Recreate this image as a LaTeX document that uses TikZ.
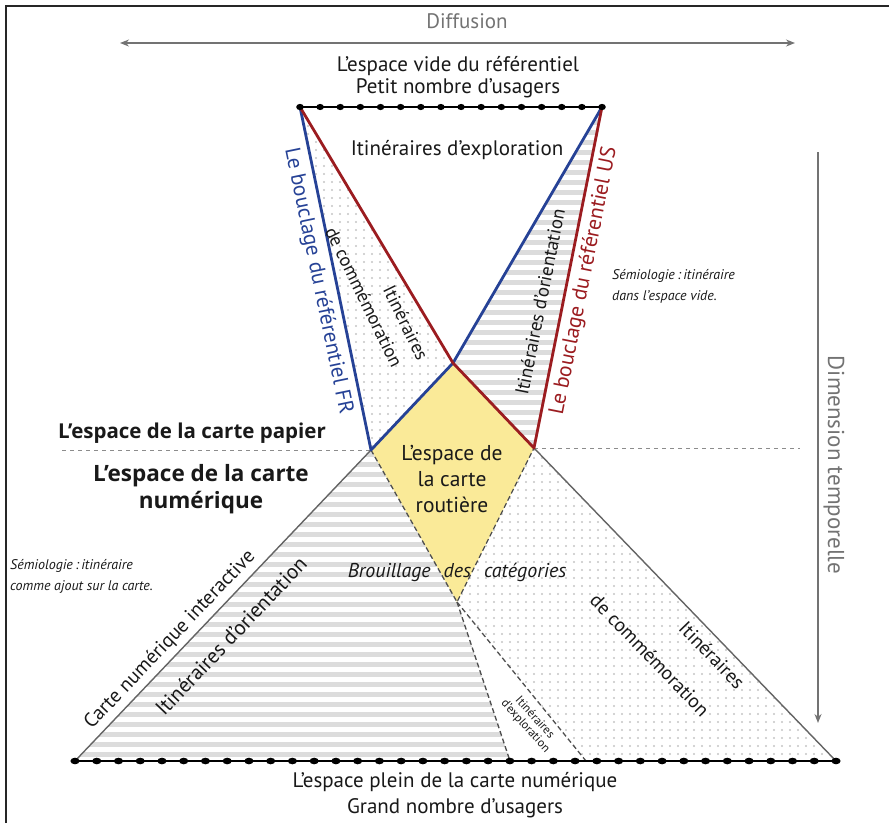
\documentclass[tikz,border=0pt]{standalone}
\usepackage{fontspec}
\setmainfont{PT Sans}
\newfontfamily\osans{Open Sans}
\usetikzlibrary{arrows.meta,calc}
\definecolor{myblue}{RGB}{38,66,150}
\definecolor{myred}{RGB}{155,28,32}
\definecolor{myyellow}{RGB}{250,234,152}
\definecolor{stripec}{RGB}{220,220,220}
\definecolor{dotc}{RGB}{196,196,196}
\definecolor{txt}{RGB}{25,25,25}
\definecolor{axisc}{RGB}{115,115,115}
\definecolor{edgec}{RGB}{100,100,100}
\begin{document}
\begin{tikzpicture}[x=1pt,y=-1pt,
  lbl/.style={font=\fontsize{21}{22}\selectfont, text=txt, inner sep=0pt, align=center},
  blbl/.style={lbl, font=\osans\bfseries\fontsize{20.5}{27}\selectfont},
  ilbl/.style={font=\fontsize{14}{21}\selectfont\itshape, text=txt, inner sep=0pt, align=left},
  axlbl/.style={font=\fontsize{21}{22}\selectfont, text=axisc, inner sep=0pt},
  axisline/.style={axisc, line width=1.4pt},
  blueline/.style={myblue, line width=2.8pt, line join=round},
  redline/.style={myred, line width=2.8pt, line join=round},
  greyline/.style={edgec, line width=1.4pt},
  dline/.style={edgec!80!black, line width=1.3pt, dash pattern=on 5pt off 3pt},
  hdash/.style={black!45, line width=1pt, dash pattern=on 4pt off 4pt},
  dotline/.style={black, line width=1.2pt},
]
\useasboundingbox (0,0) rectangle (889,823);
% frame
\coordinate (F1) at (6,823);
\coordinate (F2) at (6,6);
\coordinate (F3) at (889,6);
\draw[black!85, line width=1.5pt] (F1) -- (F2) -- (F3);

% key points
\coordinate (TL) at (300,107);
\coordinate (TR) at (602,107);
\coordinate (X) at (453,363);
\coordinate (LB) at (371,450);
\coordinate (RB) at (534,448);
\coordinate (D) at (457,602);
\coordinate (BL) at (75,761);
\coordinate (BR) at (836,761);
\coordinate (E1) at (510,761);
\coordinate (E2) at (586,761);
\coordinate (HL) at (62,450);
\coordinate (HR) at (800,448);

% fills
\fill[myyellow] (X) -- (RB) -- (D) -- (LB) -- cycle;
\begin{scope}
  \clip (LB) -- (BL) -- (E1) -- (D) -- cycle;
  \foreach \y in {452,462,...,762} \fill[stripec] (70,\y) rectangle (520,\y+5);
\end{scope}
\begin{scope}
  \clip (TR) -- (RB) -- (X) -- cycle;
  \foreach \y in {110,120,...,450} \fill[stripec] (440,\y) rectangle (610,\y+5);
\end{scope}
\begin{scope}
  \clip (TL) -- (X) -- (LB) -- cycle;
  \foreach \x in {300,308,...,460} \foreach \y in {110,118,...,450} \fill[dotc] (\x,\y) circle (1.1pt);
\end{scope}
\begin{scope}
  \clip (RB) -- (D) -- (E2) -- (BR) -- cycle;
  \foreach \x in {454,462,...,838} \foreach \y in {450,458,...,762} \fill[dotc] (\x,\y) circle (1.1pt);
\end{scope}

% lines
\draw[hdash] (HL) -- (LB);
\draw[hdash] (RB) -- (HR);
\draw[greyline] (LB) -- (BL);
\draw[greyline] (RB) -- (BR);
\draw[dline] (LB) -- (D) -- (RB);
\draw[dline] (D) -- (E1);
\draw[dline] (D) -- (E2);
\draw[blueline] (TR) -- (X) -- (LB) -- (TL);
\draw[redline] (TL) -- (X) -- (RB) -- (TR);

% dotted borders
\draw[myred, line width=2pt] (TL) -- (TR);
\draw[dotline] (TL) -- (TR);
\foreach \i in {0,...,15} \fill[black] ($(TL)!\i/15!(TR)$) ellipse (3.8pt and 3.1pt);
\draw[dotline, line width=1.4pt] (BL) -- (BR);
\foreach \i in {0,...,35} \fill[black] ($(BL)!\i/35!(BR)$) ellipse (4.6pt and 3.3pt);

% axes
\coordinate (DA) at (120,43);
\coordinate (DB) at (795,43);
\draw[axisline, {Stealth[length=9pt,width=7pt]}-{Stealth[length=9pt,width=7pt]}] (DA) -- (DB);
\coordinate (TA) at (818,152);
\coordinate (TB) at (818,723);
\draw[axisline, -{Stealth[length=9pt,width=7pt]}] (TA) -- (TB);

% labels
\node[axlbl] (diff) at (467,21) {Diffusion};
\node[axlbl, font=\fontsize{23}{24}\selectfont, rotate=-90] (dim) at (834,465) {Dimension temporelle};
\node[lbl] (vide) at (458,66) {L’espace vide du référentiel};
\node[lbl] (petit) at (458,88) {Petit nombre d’usagers};
\node[lbl] (explo) at (457,150) {Itinéraires d’exploration};
\node[lbl, text=myblue, font=\fontsize{21.5}{23}\selectfont, rotate=-78.3] (fr) at (318,281) {Le bouclage du référentiel FR};
\node[lbl, text=myred, font=\fontsize{21.5}{23}\selectfont, rotate=78.7] (us) at (584,281) {Le bouclage du référentiel US};
\node[lbl, font=\fontsize{18.5}{20}\selectfont, rotate=-64] (comm1) at (406,323) {Itinéraires};
\node[lbl, font=\fontsize{18.5}{20}\selectfont, rotate=-64] (comm2) at (364,297) {de commémoration};
\node[lbl, font=\fontsize{19}{20}\selectfont, rotate=78.6] (orient1) at (540,302) {Itinéraires d’orientation};
\node[ilbl, anchor=west] (semio1) at (612,286) {Sémiologie\,:\,itinéraire\\dans l’espace vide.};
\node[blbl] (papier) at (192,433) {L’espace de la carte papier};
\node[blbl, font=\osans\bfseries\fontsize{22.5}{27}\selectfont] (num) at (201,489) {L’espace de la carte\\numérique};
\node[ilbl, anchor=west] (semio2) at (10,576) {Sémiologie\,:\,itinéraire\\comme ajout sur la carte.};
\node[lbl, font=\fontsize{21.5}{26}\selectfont] (routiere) at (452,479) {L’espace de\\la carte\\routière};
\node[lbl, font=\fontsize{20}{21}\selectfont\itshape] (brouil) at (457,572) {Brouillage\hspace{13pt}des\hspace{13pt}catégories};
\node[lbl, font=\fontsize{20}{21}\selectfont, rotate=46.5] (carte) at (170,640) {Carte numérique interactive};
\node[lbl, rotate=46.5] (orient2) at (231,636) {Itinéraires d’orientation};
\node[lbl, font=\fontsize{19.5}{21}\selectfont, rotate=-46] (comm3) at (712,655) {Itinéraires};
\node[lbl, font=\fontsize{19.5}{21}\selectfont, rotate=-46] (comm4) at (650,655) {de commémoration};
\node[lbl, font=\fontsize{12}{12.5}\selectfont, rotate=-48] (smallexp) at (530,722) {Itinéraires\\d’exploration};
\node[lbl] (plein) at (455,782) {L’espace plein de la carte numérique};
\node[lbl] (grand) at (455,808) {Grand nombre d’usagers};
\end{tikzpicture}
\end{document}
